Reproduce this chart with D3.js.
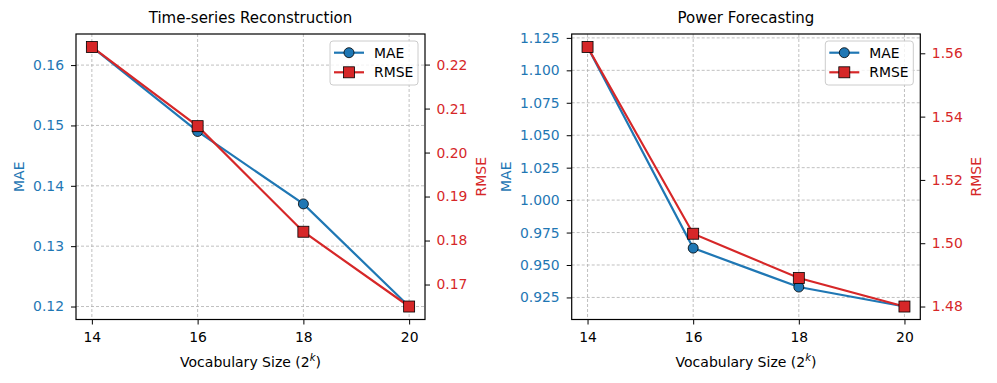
<!DOCTYPE html>
<html>
<head>
<meta charset="utf-8">
<script src="https://cdn.jsdelivr.net/npm/d3@7"></script>
<style>
  body { margin: 0; background: #fff; }
  svg { font-family: "DejaVu Sans", sans-serif; }
</style>
</head>
<body>
<div id="chart"></div>
<script>
// vocabulary size exponents (2^k)
var vocab = [14, 16, 18, 20];

// Time-series Reconstruction
var tsMAE  = [0.163, 0.149, 0.137, 0.120];
var tsRMSE = [0.224, 0.206, 0.182, 0.165];
var tsMAETicks  = [0.12, 0.13, 0.14, 0.15, 0.16];
var tsRMSETicks = [0.17, 0.18, 0.19, 0.20, 0.21, 0.22];

// Power Forecasting
var pfMAE  = [1.118, 0.963, 0.933, 0.918];
var pfRMSE = [1.562, 1.503, 1.489, 1.480];
var pfMAETicks  = [0.925, 0.950, 0.975, 1.000, 1.025, 1.050, 1.075, 1.100, 1.125];
var pfRMSETicks = [1.48, 1.50, 1.52, 1.54, 1.56];

var blue = "#1f77b4", red = "#d62728";
var W = 997, H = 383;

var svg = d3.select("#chart").append("svg")
  .attr("width", W)
  .attr("height", H);

// matplotlib-like 5% margins
function padded(vals) {
  var lo = d3.min(vals), hi = d3.max(vals), m = (hi - lo) * 0.05;
  return [lo - m, hi + m];
}

function drawPanel(p) {
  var top = 34, bottom = 319.5;
  var x = d3.scaleLinear().domain(padded(vocab)).range([p.left, p.right]);
  var yL = d3.scaleLinear().domain(padded(p.mae)).range([bottom, top]);
  var yR = d3.scaleLinear().domain(padded(p.rmse)).range([bottom, top]);

  var g = svg.append("g");

  // grid
  g.append("g").selectAll("line").data(vocab).enter().append("line")
    .attr("x1", function(d) { return x(d); })
    .attr("x2", function(d) { return x(d); })
    .attr("y1", top).attr("y2", bottom)
    .attr("stroke", "#b0b0b0").attr("stroke-width", 0.8)
    .attr("stroke-dasharray", "3,2");
  g.append("g").selectAll("line").data(p.maeTicks).enter().append("line")
    .attr("x1", p.left).attr("x2", p.right)
    .attr("y1", function(d) { return yL(d); })
    .attr("y2", function(d) { return yL(d); })
    .attr("stroke", "#b0b0b0").attr("stroke-width", 0.8)
    .attr("stroke-dasharray", "3,2");

  // axes
  var xAxis = g.append("g").attr("transform", "translate(0," + bottom + ")")
    .call(d3.axisBottom(x).tickValues(vocab).tickFormat(d3.format("d")).tickSize(5).tickPadding(8));
  var lAxis = g.append("g").attr("transform", "translate(" + p.left + ",0)")
    .call(d3.axisLeft(yL).tickValues(p.maeTicks).tickFormat(d3.format(p.maeFmt)).tickSize(5).tickPadding(7));
  var rAxis = g.append("g").attr("transform", "translate(" + p.right + ",0)")
    .call(d3.axisRight(yR).tickValues(p.rmseTicks).tickFormat(d3.format(p.rmseFmt)).tickSize(5).tickPadding(6.5));

  [xAxis, lAxis, rAxis].forEach(function(a) {
    a.select(".domain").remove();
    a.selectAll("text").attr("font-family", "DejaVu Sans").attr("font-size", "13.9px");
    a.selectAll("line").attr("stroke", "#000").attr("stroke-width", 1);
  });
  xAxis.selectAll("text").attr("fill", "#000");
  lAxis.selectAll("text").attr("fill", blue);
  rAxis.selectAll("text").attr("fill", red);

  // lines
  var line = function(ys, scale) {
    return d3.line()
      .x(function(d, i) { return x(vocab[i]); })
      .y(function(d) { return scale(d); })(ys);
  };

  g.append("path").attr("d", line(p.mae, yL))
    .attr("fill", "none").attr("stroke", blue).attr("stroke-width", 2.2);
  g.append("g").selectAll("circle").data(p.mae).enter().append("circle")
    .attr("cx", function(d, i) { return x(vocab[i]); })
    .attr("cy", function(d) { return yL(d); })
    .attr("r", 5)
    .attr("fill", blue).attr("stroke", "#000").attr("stroke-width", 0.8);

  g.append("path").attr("d", line(p.rmse, yR))
    .attr("fill", "none").attr("stroke", red).attr("stroke-width", 2.2);
  g.append("g").selectAll("rect").data(p.rmse).enter().append("rect")
    .attr("x", function(d, i) { return x(vocab[i]) - 5.5; })
    .attr("y", function(d) { return yR(d) - 5.5; })
    .attr("width", 11).attr("height", 11)
    .attr("fill", red).attr("stroke", "#000").attr("stroke-width", 0.8);

  // frame
  g.append("rect")
    .attr("x", p.left).attr("y", top)
    .attr("width", p.right - p.left).attr("height", bottom - top)
    .attr("fill", "none").attr("stroke", "#000").attr("stroke-width", 1.2);

  // legend
  var lx = p.right - 95, ly = 41;
  var leg = g.append("g");
  leg.append("rect")
    .attr("x", lx).attr("y", ly).attr("width", 88).attr("height", 44)
    .attr("rx", 3)
    .attr("fill", "#fff").attr("fill-opacity", 0.8)
    .attr("stroke", "#cccccc").attr("stroke-width", 1);
  var items = [{ name: "MAE", color: blue, shape: "circle" },
               { name: "RMSE", color: red, shape: "square" }];
  items.forEach(function(it, i) {
    var cy = ly + 11.7 + i * 19.6;
    leg.append("line")
      .attr("x1", lx + 4).attr("x2", lx + 34)
      .attr("y1", cy).attr("y2", cy)
      .attr("stroke", it.color).attr("stroke-width", 2.2);
    if (it.shape === "circle") {
      leg.append("circle").attr("cx", lx + 19).attr("cy", cy).attr("r", 5)
        .attr("fill", it.color).attr("stroke", "#000").attr("stroke-width", 0.8);
    } else {
      leg.append("rect").attr("x", lx + 13.5).attr("y", cy - 5.5)
        .attr("width", 11).attr("height", 11)
        .attr("fill", it.color).attr("stroke", "#000").attr("stroke-width", 0.8);
    }
    leg.append("text")
      .attr("x", lx + 44).attr("y", cy)
      .attr("dy", "0.36em")
      .attr("font-size", "13.9px")
      .text(it.name);
  });

  // title
  svg.append("text")
    .attr("x", (p.left + p.right) / 2).attr("y", 18)
    .attr("dy", "0.36em")
    .attr("text-anchor", "middle")
    .attr("font-size", "15px")
    .text(p.title);

  // x label
  var xl = svg.append("text")
    .attr("x", (p.left + p.right) / 2).attr("y", 361.5)
    .attr("dy", "0.36em")
    .attr("text-anchor", "middle")
    .attr("font-size", "14px");
  xl.append("tspan").text("Vocabulary Size (2");
  xl.append("tspan").attr("dy", -6).attr("font-size", "10px").attr("font-style", "italic").text("k");
  xl.append("tspan").attr("dy", 6).text(")");

  // y labels
  svg.append("text")
    .attr("transform", "translate(" + p.labL + "," + (top + bottom) / 2 + ") rotate(-90)")
    .attr("dy", "0.36em")
    .attr("text-anchor", "middle")
    .attr("font-size", "14px")
    .attr("fill", blue)
    .text("MAE");
  svg.append("text")
    .attr("transform", "translate(" + p.labR + "," + (top + bottom) / 2 + ") rotate(-90)")
    .attr("dy", "0.36em")
    .attr("text-anchor", "middle")
    .attr("font-size", "14px")
    .attr("fill", red)
    .text("RMSE");
}

drawPanel({
  title: "Time-series Reconstruction",
  left: 76, right: 425,
  mae: tsMAE, rmse: tsRMSE,
  maeTicks: tsMAETicks, rmseTicks: tsRMSETicks,
  maeFmt: ".2f", rmseFmt: ".2f",
  labL: 19, labR: 481
});

drawPanel({
  title: "Power Forecasting",
  left: 571.7, right: 920.3,
  mae: pfMAE, rmse: pfRMSE,
  maeTicks: pfMAETicks, rmseTicks: pfRMSETicks,
  maeFmt: ".3f", rmseFmt: ".2f",
  labL: 506.3, labR: 976.3
});
</script>
</body>
</html>
